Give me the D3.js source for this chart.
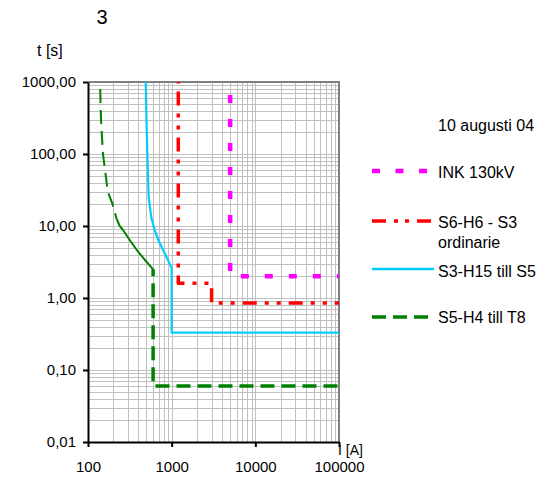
<!DOCTYPE html>
<html lang="sv">
<head>
<meta charset="UTF-8">
<title>3</title>
<script src="https://d3js.org/d3.v7.min.js"></script>
<style>
  body { margin: 0; background: #fff; }
  svg text { font-family: Arial, "Liberation Sans", sans-serif; fill: #000; }
</style>
</head>
<body>
<div id="chart"></div>
<script>
// ström [A] / tid [s]
const inkI = [5000, 5000, 100000];
const inkT = [1000, 2, 2];

const s6I = [1200, 1200, 3000, 3000, 100000];
const s6T = [1000, 1.6, 1.6, 0.85, 0.85];

const s3I = [490, 500, 512, 531, 572, 626, 719, 865, 1000, 1000, 100000];
const s3T = [1000, 300, 100, 25, 13, 8.8, 5.8, 3.75, 2.6, 0.33, 0.33];

// S5-H4: övre kurvdel (streckad tunn), knä (heldragen), steg (streckad tjock)
const s5CurveI = [140, 143, 151, 163, 172, 194, 218, 239];
const s5CurveT = [800, 300, 100, 50, 30, 21, 13, 10];
const s5KneeI = [239, 262, 315, 385, 476, 600];
const s5KneeT = [10, 8.8, 6.4, 4.6, 3.4, 2.5];
const s5StepI = [600, 600, 100000];
const s5StepT = [2.5, 0.06, 0.06];

const xTicks = [100, 1000, 10000, 100000];
const xTickLabels = ["100", "1000", "10000", "100000"];
const yTicks = [0.01, 0.1, 1, 10, 100, 1000];
const yTickLabels = ["0,01", "0,10", "1,00", "10,00", "100,00", "1000,00"];

const legendLabels = [["INK 130kV"], ["S6-H6 - S3", "ordinarie"], ["S3-H15 till S5"], ["S5-H4 till T8"]];

const width = 550, height = 478;
const pLeft = 88, pRight = 339, pTop = 82, pBottom = 442;

const svg = d3.select("#chart").append("svg")
  .attr("width", width)
  .attr("height", height);

const x = d3.scaleLog().domain([100, 100000]).range([pLeft, pRight]);
const y = d3.scaleLog().domain([0.01, 1000]).range([pBottom, pTop]);

// rutnät
const grid = svg.append("g").attr("stroke", "#c0c0c0").attr("stroke-width", 1);
grid.selectAll("line.gx")
  .data(x.ticks().filter(d => d > 100 && d < 100000))
  .join("line")
  .attr("class", "gx")
  .attr("x1", d => Math.round(x(d)) + 0.5)
  .attr("x2", d => Math.round(x(d)) + 0.5)
  .attr("y1", pTop).attr("y2", pBottom);
grid.selectAll("line.gy")
  .data(y.ticks().filter(d => d > 0.01 && d < 1000))
  .join("line")
  .attr("class", "gy")
  .attr("y1", d => Math.round(y(d)) + 0.5)
  .attr("y2", d => Math.round(y(d)) + 0.5)
  .attr("x1", pLeft).attr("x2", pRight);

// ram topp/höger
svg.append("path")
  .attr("d", `M${pLeft},${pTop}H${pRight}V${pBottom}`)
  .attr("fill", "none")
  .attr("stroke", "#808080")
  .attr("stroke-width", 2);

// serier
const line = d3.line().x(d => x(d[0])).y(d => y(d[1]));
const pts = (a, b) => a.map((v, i) => [v, b[i]]);

const series = [
  { data: pts(inkI, inkT), color: "#ff00ff", w: 4.5, dash: "8,16", off: 11 },
  { data: pts(s6I, s6T), color: "#ff0000", w: 3.5, dash: "14,8,4,8,4,8", off: 36.5 },
  { data: pts(s3I, s3T), color: "#00ccff", w: 2.2, dash: null, off: 0 },
  { data: pts(s5CurveI, s5CurveT), color: "#008000", w: 2, dash: "14,7", off: 0 },
  { data: pts(s5KneeI, s5KneeT), color: "#008000", w: 2, dash: null, off: 0 },
  { data: pts(s5StepI, s5StepT), color: "#008000", w: 3.5, dash: "14,7", off: 7 }
];

svg.append("g").selectAll("path")
  .data(series)
  .join("path")
  .attr("d", d => line(d.data))
  .attr("fill", "none")
  .attr("stroke", d => d.color)
  .attr("stroke-width", d => d.w)
  .attr("stroke-dasharray", d => d.dash)
  .attr("stroke-dashoffset", d => d.off)
  .attr("stroke-linejoin", "round");

// axlar
const yAxis = svg.append("g")
  .attr("transform", `translate(${pLeft},0)`)
  .call(d3.axisLeft(y).tickValues(yTicks)
    .tickFormat((d, i) => yTickLabels[i])
    .tickSize(5).tickSizeOuter(0).tickPadding(7));
const xAxis = svg.append("g")
  .attr("transform", `translate(0,${pBottom})`)
  .call(d3.axisBottom(x).tickValues(xTicks)
    .tickFormat((d, i) => xTickLabels[i])
    .tickSize(5).tickSizeOuter(0).tickPadding(14));

[yAxis, xAxis].forEach(a => {
  a.attr("font-family", null).attr("font-size", 15);
  a.select(".domain").attr("stroke", "#000").attr("stroke-width", 2);
  a.selectAll(".tick line").attr("stroke", "#000").attr("stroke-width", 2);
});

// titlar
svg.append("text").attr("x", 102).attr("y", 24)
  .attr("text-anchor", "middle").attr("font-size", 20).text("3");
svg.append("text").attr("x", 37).attr("y", 56)
  .attr("font-size", 16).text("t [s]");
svg.append("text").attr("x", 338).attr("y", 455)
  .attr("font-size", 14).text("I [A]");

// förklaring
svg.append("text").attr("x", 438).attr("y", 131)
  .attr("font-size", 16).text("10 augusti 04");

const legendY = [171, 221, 269, 317];
const legendSeries = [series[0], series[1], series[2], series[5]];
const legendDash = ["8,15.5", "14,8,4,7,4,8", null, "14,7"];
const legendX2 = [427, 431, 434, 430];
const legendTextY = [[178], [228, 248], [277], [323]];

const lg = svg.append("g");
legendSeries.forEach((s, i) => {
  lg.append("line")
    .attr("x1", 372).attr("x2", legendX2[i])
    .attr("y1", legendY[i]).attr("y2", legendY[i])
    .attr("stroke", s.color)
    .attr("stroke-width", i === 2 ? 2.5 : s.w)
    .attr("stroke-dasharray", legendDash[i]);
  legendLabels[i].forEach((t, j) => {
    lg.append("text").attr("x", 438).attr("y", legendTextY[i][j])
      .attr("font-size", 16).text(t);
  });
});
</script>
</body>
</html>
